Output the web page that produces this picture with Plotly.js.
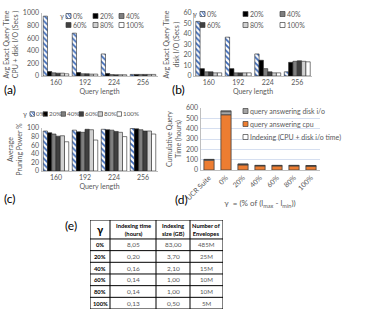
<!DOCTYPE html>
<html>
<head>
<meta charset="utf-8">
<script src="https://cdn.plot.ly/plotly-3.0.1.min.js"></script>
<style>
html, body { margin:0; padding:0; background:#fff; }
#graph { width:390px; height:328px; }
</style>
</head>
<body>
<div id="graph"></div>
<script>
// categories
var queryLen = ['160', '192', '224', '256'];
var gammas = ['0%', '20%', '40%', '60%', '80%', '100%'];

// (a) avg exact query time, CPU + disk I/O (secs) - one row per gamma
var timeAll = [
  [950, 680, 350, 25],
  [70, 55, 40, 25],
  [50, 35, 22, 25],
  [45, 35, 20, 25],
  [45, 30, 20, 25],
  [35, 30, 20, 25]
];
// (b) avg exact query time, disk I/O (secs)
var timeDisk = [
  [52, 37, 21, 4],
  [7, 7, 15, 13],
  [4, 3, 7, 14],
  [4, 3, 4, 14.5],
  [3, 3, 3, 14],
  [3, 3, 3, 13.5]
];
// (c) average pruning power %
var pruning = [
  [93, 95, 97, 99],
  [89, 91, 96, 98],
  [86, 90, 95, 96],
  [81, 97, 92, 93],
  [82, 96, 90, 93],
  [68, 72, 80, 86]
];
// (d) cumulative query time (hours)
var methods = ['UCR Suite', '0%', '20%', '40%', '60%', '80%', '100%'];
var cpuHours = [95, 535, 50, 40, 40, 40, 38];
var diskHours = [7, 30, 6, 4, 4, 4, 4];
var indexHours = [0, 8.05, 0.20, 0.16, 0.14, 0.14, 0.13];
// (e) table
var tableHead = ['γ', 'Indexing time<br>(hours)', 'Indexing<br>size (GB)', 'Number of<br>Envelopes'];
var indexTime = [8.05, 0.20, 0.16, 0.14, 0.14, 0.13];
var indexSize = [83.00, 3.70, 2.10, 1.00, 1.00, 0.50];
var envelopes = ['485M', '25M', '15M', '10M', '10M', '5M'];

var W = 390, H = 328;
var FONT = 'Lato, "Open Sans", sans-serif';
var GREY = '#595959';
function px(x) { return x / W; }
function py(y) { return 1 - y / H; }

var fills = ['#ffffff', '#000000', '#7f7f7f', '#404040', '#d0d0d0', '#ffffff'];
var HATCH = '#3a68b8';

var data = [];
function addGroup(vals, xa, ya) {
  for (var i = 0; i < gammas.length; i++) {
    var m = {color: fills[i], line: {color: '#262626', width: 0.6}};
    if (i == 0) m.pattern = {shape: '\\', fgcolor: HATCH, bgcolor: '#ffffff', size: 4, solidity: 0.45};
    data.push({
      type: 'bar', x: queryLen, y: vals[i], name: gammas[i],
      xaxis: xa, yaxis: ya, marker: m, showlegend: false, hoverinfo: 'skip'
    });
  }
}
addGroup(timeAll, 'x', 'y');
addGroup(timeDisk, 'x2', 'y2');
addGroup(pruning, 'x3', 'y3');

// (d) stacked by hand with base
var base2 = [], base3 = [];
for (var j = 0; j < methods.length; j++) {
  base2.push(cpuHours[j]);
  base3.push(cpuHours[j] + diskHours[j]);
}
var dOpts = {type: 'bar', x: methods, xaxis: 'x4', yaxis: 'y4', width: 0.6, offset: -0.3, showlegend: false, hoverinfo: 'skip'};
data.push(Object.assign({}, dOpts, {y: cpuHours, name: 'query answering cpu',
  marker: {color: '#ed7d31', line: {color: '#404040', width: 0.8}}}));
data.push(Object.assign({}, dOpts, {y: diskHours, base: base2, name: 'query answering disk i/o',
  marker: {color: '#a5a5a5', line: {color: '#404040', width: 0.8}}}));
data.push(Object.assign({}, dOpts, {y: indexHours, base: base3, name: 'Indexing (CPU + disk i/o time)',
  marker: {color: '#ffffff', line: {color: '#404040', width: 0.8}}}));

function xAx(d0, d1, anchor, title) {
  return {domain: [px(d0), px(d1)], anchor: anchor, type: 'category',
    showline: true, linecolor: '#bfbfbf', linewidth: 1, ticks: '', showgrid: false,
    tickfont: {size: 7, color: GREY}, fixedrange: true,
    title: {text: title, font: {size: 7, color: GREY}, standoff: 3}};
}
function yAx(top, bottom, range, dtick, anchor, title, grid) {
  return {domain: [py(bottom), py(top)], anchor: anchor, range: range, dtick: dtick,
    showline: true, linecolor: '#bfbfbf', linewidth: 1, ticks: '', zeroline: false,
    showgrid: !!grid, gridcolor: '#d6dff0', gridwidth: 1,
    tickfont: {size: 7, color: GREY}, fixedrange: true,
    title: {text: title, font: {size: 7, color: GREY}, standoff: 3}};
}

// table grid: column widths and row heights in table units (x5 / y5)
var colW = [20, 46, 34, 33];
var headH = 19, rowH = 11.7;
var colEdge = [0];
colW.forEach(function(w) { colEdge.push(colEdge[colEdge.length - 1] + w); });
var rowEdge = [0, headH];
for (var r = 0; r < gammas.length; r++) rowEdge.push(headH + (r + 1) * rowH);
var tW = colEdge[colEdge.length - 1], tH = rowEdge[rowEdge.length - 1];

var layout = {
  width: W, height: H,
  margin: {l: 0, r: 0, t: 0, b: 0},
  paper_bgcolor: '#fff', plot_bgcolor: 'rgba(0,0,0,0)',
  font: {family: FONT, size: 7, color: GREY},
  barmode: 'group', bargap: 0.12, bargroupgap: 0,
  xaxis: xAx(41.5, 157.5, 'y', 'Query length'),
  yaxis: yAx(13, 76, [0, 1000], 200, 'x', 'Avg Exact Query Time<br>CPU + disk I/O (Secs )'),
  xaxis2: xAx(194, 312, 'y2', 'Query length'),
  yaxis2: yAx(13, 76, [0, 60], 10, 'x2', 'Avg Exact Query Time<br>disk I/O (Secs )'),
  xaxis3: xAx(41.5, 157.5, 'y3', 'Query length'),
  yaxis3: yAx(128, 171, [0, 100], 20, 'x3', 'Average<br>Pruning Power %'),
  xaxis4: xAx(200.5, 319.5, 'y4', 'γ  = (% of (l<sub>max</sub> - l<sub>min</sub>))'),
  yaxis4: yAx(108, 170, [0, 600], 100, 'x4', 'Cumulative Query<br>Time (hours)', true),
  xaxis5: {domain: [px(90), px(223)], anchor: 'y5', range: [0, tW], visible: false, fixedrange: true},
  yaxis5: {domain: [py(309), py(220)], anchor: 'x5', range: [tH, 0], visible: false, fixedrange: true},
  annotations: [],
  shapes: []
};
layout.xaxis4.tickangle = -45;
layout.xaxis4.title.font.size = 8;
layout.xaxis4.title.standoff = 0;

// panel labels
var panels = [['(a)', 10, 89], ['(b)', 178, 89], ['(c)', 10, 198], ['(d)', 181, 199], ['(e)', 71, 226]];
panels.forEach(function(p) {
  layout.annotations.push({text: p[0], x: px(p[1]), y: py(p[2]), xref: 'paper', yref: 'paper',
    showarrow: false, font: {size: 12, color: '#000'}, xanchor: 'center', yanchor: 'middle'});
});

// legend keys drawn as small boxes + text
function key(x, y, fill, line, label, hatch, fs) {
  var s = fs < 7 ? 4.5 : 5;
  layout.shapes.push({type: 'rect', xref: 'paper', yref: 'paper',
    x0: px(x), x1: px(x + s), y0: py(y + s / 2), y1: py(y - s / 2),
    fillcolor: fill, line: {color: line, width: 0.7}});
  if (hatch) {
    var p = 'M' + px(x) + ',' + py(y - 0.5) + 'L' + px(x + 2) + ',' + py(y + s / 2) +
            'M' + px(x + 1.5) + ',' + py(y - s / 2) + 'L' + px(x + s) + ',' + py(y + s / 2 - 0.5) +
            'M' + px(x + 3.5) + ',' + py(y - s / 2) + 'L' + px(x + s) + ',' + py(y - 0.5);
    layout.shapes.push({type: 'path', xref: 'paper', yref: 'paper', path: p,
      line: {color: HATCH, width: 1}});
  }
  layout.annotations.push({text: label, x: px(x + s + 0.5), y: py(y), xref: 'paper', yref: 'paper',
    showarrow: false, xanchor: 'left', yanchor: 'middle', borderpad: 0, font: {size: fs, color: GREY}});
}
function gammaTitle(x, y) {
  layout.annotations.push({text: 'γ', x: px(x), y: py(y), xref: 'paper', yref: 'paper',
    showarrow: false, xanchor: 'center', yanchor: 'middle', font: {size: 7, color: GREY}});
}
function gammaKeys(xs, ys, fs) {
  for (var i = 0; i < gammas.length; i++) {
    key(xs[i], ys[i], fills[i], '#404040', gammas[i], i == 0, fs);
  }
}
gammaTitle(62, 16);
gammaKeys([66, 93, 119, 66, 93, 119], [16, 16, 16, 25, 25, 25], 7);
gammaTitle(195, 14);
gammaKeys([200, 243, 280, 200, 243, 280], [14, 14, 14, 25, 25, 25], 7);
gammaTitle(25, 114);
gammaKeys([30, 43, 61, 79, 98, 117], [114, 114, 114, 114, 114, 114], 6.3);
key(243, 111, '#a5a5a5', '#404040', 'query answering disk i/o', false, 7);
key(243, 124, '#ed7d31', '#404040', 'query answering cpu', false, 7);
key(243, 137, '#ffffff', '#404040', 'Indexing (CPU + disk i/o time)', false, 7);

// (e) table drawn on its own hidden axes
function comma(v) { return v.toFixed(2).replace('.', ','); }
colEdge.forEach(function(xe) {
  layout.shapes.push({type: 'line', xref: 'x5', yref: 'y5', x0: xe, x1: xe, y0: 0, y1: tH,
    line: {color: '#000', width: 1}});
});
rowEdge.forEach(function(ye) {
  layout.shapes.push({type: 'line', xref: 'x5', yref: 'y5', x0: 0, x1: tW, y0: ye, y1: ye,
    line: {color: '#000', width: 1}});
});
function cell(c, r0, r1, text, size, color) {
  layout.annotations.push({text: text, xref: 'x5', yref: 'y5',
    x: (colEdge[c] + colEdge[c + 1]) / 2, y: (r0 + r1) / 2,
    showarrow: false, xanchor: 'center', yanchor: 'middle', borderpad: 0,
    font: {size: size, color: color}});
}
tableHead.forEach(function(h, c) {
  cell(c, 0, headH, '<b>' + h + '</b>', c == 0 ? 11 : 5.8, '#000');
});
for (var k = 0; k < gammas.length; k++) {
  var y0 = rowEdge[k + 1], y1 = rowEdge[k + 2];
  cell(0, y0, y1, '<b>' + gammas[k] + '</b>', 5.8, '#000');
  cell(1, y0, y1, comma(indexTime[k]), 6.5, GREY);
  cell(2, y0, y1, comma(indexSize[k]), 6.5, GREY);
  cell(3, y0, y1, envelopes[k], 6.2, GREY);
}

Plotly.newPlot('graph', data, layout, {staticPlot: true, displayModeBar: false});
</script>
</body>
</html>
